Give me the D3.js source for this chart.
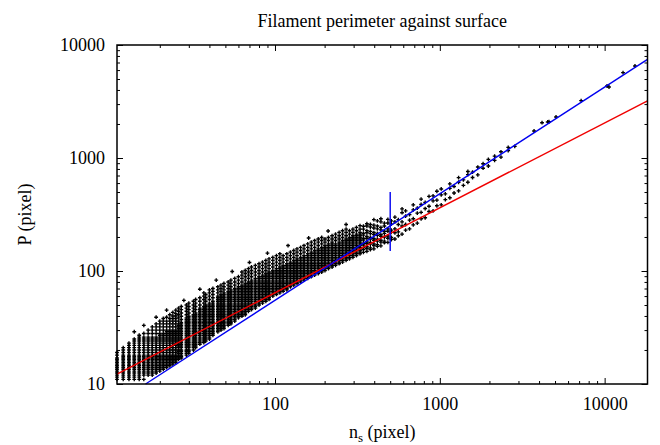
<!DOCTYPE html>
<html>
<head>
<meta charset="utf-8">
<script src="https://cdn.jsdelivr.net/npm/d3@7"></script>
<style>
body { margin: 0; background: #fff; }
text { font-family: "Liberation Serif", "DejaVu Serif", serif; fill: #000; }
</style>
</head>
<body>
<svg id="chart" width="660" height="445"></svg>
<script>
//////////////////////////////////////
// Data

const title = 'Filament perimeter against surface'
const xDomain = [11, 18200]
const yDomain = [10, 10000]
const xMajor = [100, 1000, 10000]
const xMinor = [20, 30, 40, 50, 60, 70, 80, 90, 200, 300, 400, 500, 600, 700, 800, 900, 2000, 3000, 4000, 5000, 6000, 7000, 8000, 9000]
const yMajor = [10, 100, 1000, 10000]
const yMinor = [20, 30, 40, 50, 60, 70, 80, 90, 200, 300, 400, 500, 600, 700, 800, 900, 2000, 3000, 4000, 5000, 6000, 7000, 8000, 9000]

// small surfaces: one column of perimeters per integer n_s
const colNs = [11, 12, 13, 14, 15, 16, 17, 18, 19, 20, 21, 22, 23, 24, 25]
const colP = [
	[11, 11.5, 12, 12.5, 13, 13.5, 14, 14.5, 15, 15.5, 16, 16.5, 17, 18, 19],
	[11, 11.5, 12, 12.5, 13, 13.5, 14, 14.5, 15, 15.5, 16, 16.5, 17, 17.5, 18, 19, 20, 21],
	[11, 11.5, 12, 12.5, 13, 13.5, 14, 14.5, 15, 15.5, 16, 16.5, 17, 17.5, 18, 19, 20, 21, 22, 23],
	[11, 11.5, 12, 12.5, 13, 13.5, 14, 14.5, 15, 15.5, 16, 16.5, 17, 17.5, 18, 19, 20, 21, 22, 23, 24, 25],
	[11, 11.5, 12, 12.5, 13, 13.5, 14, 14.5, 15, 15.5, 16, 16.5, 17, 17.5, 18, 19, 20, 21, 22, 23, 24, 25, 26, 27],
	[11, 12, 12.5, 13, 13.5, 14, 14.5, 15, 15.5, 16, 16.5, 17, 17.5, 18, 19, 20, 21, 22, 23, 24, 25, 26, 28],
	[12, 12.5, 13, 13.5, 14, 14.5, 15, 15.5, 16, 16.5, 17, 17.5, 18, 19, 20, 21, 22, 23, 24, 25, 26, 28, 30],
	[12, 12.5, 13, 13.5, 14, 14.5, 15, 15.5, 16, 16.5, 17, 17.5, 18, 19, 20, 21, 22, 23, 24, 25, 26, 28, 30, 32],
	[12.5, 13, 13.5, 14, 14.5, 15, 15.5, 16, 16.5, 17, 17.5, 18, 19, 20, 21, 22, 23, 24, 25, 26, 28, 30, 32, 34],
	[13, 13.5, 14, 14.5, 15, 15.5, 16, 16.5, 17, 17.5, 18, 19, 20, 21, 22, 23, 24, 25, 26, 27, 28, 30, 32, 34, 36],
	[13.5, 14, 14.5, 15, 15.5, 16, 16.5, 17, 17.5, 18, 19, 20, 21, 22, 23, 24, 25, 26, 27, 28, 30, 32, 34, 36, 38],
	[14, 14.5, 15, 15.5, 16, 16.5, 17, 17.5, 18, 19, 20, 21, 22, 23, 24, 25, 26, 27, 28, 29, 30, 32, 34, 36, 39],
	[14.5, 15, 15.5, 16, 16.5, 17, 17.5, 18, 19, 20, 21, 22, 23, 24, 25, 26, 27, 28, 29, 30, 32, 34, 36, 38, 41],
	[15, 15.5, 16, 16.5, 17, 17.5, 18, 19, 20, 21, 22, 23, 24, 25, 26, 27, 28, 29, 30, 32, 34, 36, 38, 40, 43],
	[15.5, 16, 16.5, 17, 17.5, 18, 19, 20, 21, 22, 23, 24, 25, 26, 27, 28, 29, 30, 32, 34, 36, 38, 40, 42, 45]
]

// larger surfaces, where the columns merge into one dense band
const rowNs = [26, 27, 29, 30, 32, 33, 35, 37, 38, 40, 42, 45, 47, 49, 52, 54, 57, 60, 63, 66, 69, 72, 76, 80, 84, 88, 92, 97,
	102, 107, 112, 118, 124, 130, 136, 143, 150, 158, 166, 174, 183, 192, 201, 211, 222, 233, 245, 257, 270, 283, 297, 312, 328]
const rowP = [
	[16.5, 17, 17.5, 18, 18.7, 19.5, 20, 21, 21.7, 22.5, 23.2, 24, 25, 26, 27, 28, 29, 30, 31, 32, 33, 34, 36, 38.5, 41, 44, 47],
	[17, 17.5, 18, 18.7, 19.5, 20, 21, 21.7, 22.5, 23.2, 24, 25, 26, 27, 28, 29, 30, 31, 32, 33, 34, 35, 37.2, 39.8, 42.5, 45.5, 48.5],
	[18, 18.7, 19.5, 20, 21, 21.7, 22.5, 23.2, 24, 25, 26, 27, 28, 29, 30, 31, 32, 33, 34, 35, 36, 37.2, 38.5, 41, 44, 47, 50],
	[18.7, 19.5, 20, 21, 21.7, 22.5, 23.2, 24, 25, 26, 27, 28, 29, 30, 31, 32, 33, 34, 35, 36, 37.2, 38.5, 39.8, 42.5, 45.5, 48.5, 52],
	[20, 21, 21.7, 22.5, 23.2, 24, 25, 26, 27, 28, 29, 30, 31, 32, 33, 34, 35, 36, 37.2, 38.5, 39.8, 41, 44, 47, 50, 54],
	[21, 21.7, 22.5, 23.2, 24, 25, 26, 27, 28, 29, 30, 31, 32, 33, 34, 35, 36, 37.2, 38.5, 39.8, 41, 42.5, 45.5, 48.5, 52, 56],
	[22.5, 23.2, 24, 25, 26, 27, 28, 29, 30, 31, 32, 33, 34, 35, 36, 37.2, 38.5, 39.8, 41, 42.5, 44, 45.5, 47, 50, 54, 58],
	[23.2, 24, 25, 26, 27, 28, 29, 30, 31, 32, 33, 34, 35, 36, 37.2, 38.5, 39.8, 41, 42.5, 44, 45.5, 47, 48.5, 52, 56, 60, 64],
	[24, 25, 26, 27, 28, 29, 30, 31, 32, 33, 34, 35, 36, 37.2, 38.5, 39.8, 41, 42.5, 44, 45.5, 47, 48.5, 50, 54, 58, 62],
	[25, 26, 27, 28, 29, 30, 31, 32, 33, 34, 35, 36, 37.2, 38.5, 39.8, 41, 42.5, 44, 45.5, 47, 48.5, 50, 52, 56, 60, 64, 68],
	[27, 28, 29, 30, 31, 32, 33, 34, 35, 36, 37.2, 38.5, 39.8, 41, 42.5, 44, 45.5, 47, 48.5, 50, 52, 54, 58, 62, 66, 70],
	[29, 30, 31, 32, 33, 34, 35, 36, 37.2, 38.5, 39.8, 41, 42.5, 44, 45.5, 47, 48.5, 50, 52, 54, 56, 58, 60, 64, 68, 72.5],
	[30, 31, 32, 33, 34, 35, 36, 37.2, 38.5, 39.8, 41, 42.5, 44, 45.5, 47, 48.5, 50, 52, 54, 56, 58, 60, 62, 66, 70, 75],
	[31, 32, 33, 34, 35, 36, 37.2, 38.5, 39.8, 41, 42.5, 44, 45.5, 47, 48.5, 50, 52, 54, 56, 58, 60, 62, 64, 68, 72.5, 77.5],
	[33, 34, 35, 36, 37.2, 38.5, 39.8, 41, 42.5, 44, 45.5, 47, 48.5, 50, 52, 54, 56, 58, 60, 62, 64, 66, 70, 75, 80],
	[34, 35, 36, 37.2, 38.5, 39.8, 41, 42.5, 44, 45.5, 47, 48.5, 50, 52, 54, 56, 58, 60, 62, 64, 66, 68, 72.5, 77.5, 83],
	[36, 37.2, 38.5, 39.8, 41, 42.5, 44, 45.5, 47, 48.5, 50, 52, 54, 56, 58, 60, 62, 64, 66, 68, 70, 75, 80, 86],
	[38.5, 39.8, 41, 42.5, 44, 45.5, 47, 48.5, 50, 52, 54, 56, 58, 60, 62, 64, 66, 68, 70, 72.5, 77.5, 83, 89],
	[39.8, 41, 42.5, 44, 45.5, 47, 48.5, 50, 52, 54, 56, 58, 60, 62, 64, 66, 68, 70, 72.5, 75, 80, 86, 92, 98],
	[41, 42.5, 44, 45.5, 47, 48.5, 50, 52, 54, 56, 58, 60, 62, 64, 66, 68, 70, 72.5, 75, 77.5, 83, 89, 95, 101],
	[44, 45.5, 47, 48.5, 50, 52, 54, 56, 58, 60, 62, 64, 66, 68, 70, 72.5, 75, 77.5, 80, 86, 92, 98, 105],
	[45.5, 47, 48.5, 50, 52, 54, 56, 58, 60, 62, 64, 66, 68, 70, 72.5, 75, 77.5, 80, 83, 89, 95, 101, 108.5],
	[47, 48.5, 50, 52, 54, 56, 58, 60, 62, 64, 66, 68, 70, 72.5, 75, 77.5, 80, 83, 86, 92, 98, 105, 112],
	[50, 52, 54, 56, 58, 60, 62, 64, 66, 68, 70, 72.5, 75, 77.5, 80, 83, 86, 89, 95, 101, 108.5, 116],
	[52, 54, 56, 58, 60, 62, 64, 66, 68, 70, 72.5, 75, 77.5, 80, 83, 86, 89, 92, 98, 105, 112, 120],
	[54, 56, 58, 60, 62, 64, 66, 68, 70, 72.5, 75, 77.5, 80, 83, 86, 89, 92, 95, 101, 108.5, 116, 124],
	[56, 58, 60, 62, 64, 66, 68, 70, 72.5, 75, 77.5, 80, 83, 86, 89, 92, 95, 98, 105, 112, 120, 128],
	[60, 62, 64, 66, 68, 70, 72.5, 75, 77.5, 80, 83, 86, 89, 92, 95, 98, 101, 108.5, 116, 124, 132],
	[62, 64, 66, 68, 70, 72.5, 75, 77.5, 80, 83, 86, 89, 92, 95, 98, 101, 105, 112, 120, 128, 137],
	[64, 66, 68, 70, 72.5, 75, 77.5, 80, 83, 86, 89, 92, 95, 98, 101, 105, 108.5, 116, 124, 132, 142],
	[66, 68, 70, 72.5, 75, 77.5, 80, 83, 86, 89, 92, 95, 98, 101, 105, 108.5, 112, 120, 128, 137],
	[68, 70, 72.5, 75, 77.5, 80, 83, 86, 89, 92, 95, 98, 101, 105, 108.5, 112, 116, 124, 132, 142],
	[72.5, 75, 77.5, 80, 83, 86, 89, 92, 95, 98, 101, 105, 108.5, 112, 116, 120, 128, 137, 147],
	[75, 77.5, 80, 83, 86, 89, 92, 95, 98, 101, 105, 108.5, 112, 116, 120, 124, 132, 142, 152],
	[77.5, 80, 83, 86, 89, 92, 95, 98, 101, 105, 108.5, 112, 116, 120, 124, 128, 137, 147, 157],
	[80, 83, 86, 89, 92, 95, 98, 101, 105, 108.5, 112, 116, 120, 124, 128, 132, 142, 152, 162],
	[83, 86, 89, 92, 95, 98, 101, 105, 108.5, 112, 116, 120, 124, 128, 132, 137, 147, 157, 168],
	[86, 89, 92, 95, 98, 101, 105, 108.5, 112, 116, 120, 124, 128, 132, 137, 142, 152, 162, 174],
	[89, 92, 95, 98, 101, 105, 108.5, 112, 116, 120, 124, 128, 132, 137, 142, 147, 157, 168, 180],
	[92, 95, 98, 101, 105, 108.5, 112, 116, 120, 124, 128, 132, 137, 142, 147, 152, 162, 174, 186],
	[95, 98, 101, 105, 108.5, 112, 116, 120, 124, 128, 132, 137, 142, 147, 152, 157, 168, 180, 192],
	[98, 101, 105, 108.5, 112, 116, 120, 124, 128, 132, 137, 142, 147, 152, 157, 162, 174, 186, 198],
	[101, 105, 108.5, 112, 116, 120, 124, 128, 132, 137, 142, 147, 152, 157, 162, 168, 180, 192],
	[105, 108.5, 112, 116, 120, 124, 128, 132, 137, 142, 147, 152, 157, 162, 168, 174, 186, 198],
	[108.5, 112, 116, 120, 124, 128, 132, 137, 142, 147, 152, 157, 162, 168, 174, 180, 192, 205],
	[112, 116, 120, 124, 128, 132, 137, 142, 147, 152, 157, 162, 168, 174, 186, 198, 212],
	[116, 120, 124, 128, 132, 137, 142, 147, 152, 157, 162, 168, 174, 180, 192, 205, 220],
	[120, 124, 128, 132, 137, 142, 147, 152, 157, 162, 168, 174, 180, 186, 198, 212, 227],
	[124, 128, 132, 137, 142, 147, 152, 157, 162, 168, 174, 180, 186, 192, 205, 220, 235],
	[128, 132, 137, 142, 147, 152, 157, 162, 168, 174, 180, 186, 192, 198, 212, 227],
	[132, 137, 142, 147, 152, 157, 162, 168, 174, 180, 186, 192, 198, 205, 220, 235],
	[137, 142, 147, 152, 157, 162, 168, 174, 180, 186, 192, 198, 205, 212, 227, 243],
	[142, 147, 152, 157, 162, 168, 174, 180, 186, 192, 198, 205, 212, 220, 235, 252]
]

// ragged upper edge of the band
const edgeNs = [14, 16, 19, 22, 28, 35, 44, 55, 70, 90, 120, 160, 210, 270]
const edgeP = [29, 33, 39, 45, 55, 69, 83, 99, 119, 144, 168, 196, 226, 258]

// thinner cloud past the break, around the steeper fit
const sparseNs = [344, 361, 379, 398, 418, 439, 461, 484, 508, 534, 560, 590, 620, 655, 690, 730, 770, 815, 860, 910, 960,
	1020, 1080, 1150, 1220, 1300, 1390, 1480, 1580, 1700, 1830, 1970, 2150, 2350, 2600, 2850]
const sparseP = [
	[146, 155, 161, 170, 176, 188, 195, 208, 216, 235, 249],
	[149, 158, 164, 175, 181, 194, 202, 218, 228, 250, 262],
	[155, 160, 173, 179, 192, 198, 214, 224, 245, 258],
	[157, 168, 174, 187, 194, 210, 219, 240, 255, 285],
	[165, 171, 184, 191, 207, 215, 236, 250, 278],
	[167, 180, 187, 203, 210, 231, 243, 272, 290],
	[178, 184, 200, 215, 225, 250, 265],
	[179, 195, 204, 225, 236, 266, 286],
	[190, 198, 220, 230, 260, 278],
	[192, 218, 236, 272, 300],
	[205, 222, 258, 285],
	[212, 250, 272, 328, 355],
	[230, 258, 306, 340],
	[236, 282, 315],
	[256, 290, 348, 385],
	[265, 325, 360],
	[290, 330, 388, 432],
	[296, 357, 405],
	[336, 374, 458],
	[340, 418, 462],
	[378, 424, 508],
	[385, 472, 532],
	[428, 482],
	[445, 538, 590],
	[490, 560],
	[512, 610, 670],
	[572, 640],
	[610, 712, 760],
	[672, 750],
	[710, 832],
	[812, 890],
	[850, 972],
	[952, 1040],
	[1018, 1135],
	[1165, 1240],
	[1268]
]

// the few biggest filaments
const tailNs = [3730, 4170, 4515, 4595, 5070, 7200, 10340, 10630, 12930, 15280]
const tailP = [1733, 2052, 2084, 2094, 2307, 3215, 4335, 4250, 5690, 6520]

// fitted power laws, drawn as straight segments between their ends
const redFitNs = [11, 18200]
const redFitP = [12.2, 3210]
const blueFitNs = [16.4, 18200]
const blueFitP = [10, 7460]
// vertical marker at the break surface
const breakNs = [500, 500]
const breakP = [150, 500]

//////////////////////////////////////
// Layout

const Chartleft = 117, Chartright = 647.5, Charttop = 45, Chartbottom = 384
const fontSize = 18

const svg = d3.select('#chart')

const x = d3.scaleLog().domain(xDomain).range([Chartleft, Chartright])
const y = d3.scaleLog().domain(yDomain).range([Chartbottom, Charttop])

//////////////////////////////////////
// Points

var points = []
function addColumns(nsArr, pArr) {
	nsArr.forEach(function(ns, i) {
		pArr[i].forEach(function(p) { points.push([ns, p]) })
	})
}
addColumns(colNs, colP)
addColumns(rowNs, rowP)
addColumns(sparseNs, sparseP)
edgeNs.forEach(function(ns, i) { points.push([ns, edgeP[i]]) })
tailNs.forEach(function(ns, i) { points.push([ns, tailP[i]]) })

svg.append('g')
	.selectAll('path')
	.data(points)
	.enter().append('path')
	.attr('d', 'M-1.9,0H1.9M0,-1.9V1.9')
	.attr('transform', function(d) { return 'translate(' + x(d[0]) + ',' + y(d[1]) + ')' })
	.attr('stroke', '#000')
	.attr('stroke-width', 1.35)
	.attr('fill', 'none')

//////////////////////////////////////
// Fit lines

const line = d3.line()
	.x(function(d) { return x(d[0]) })
	.y(function(d) { return y(d[1]) })

function drawLine(nsArr, pArr, colour) {
	svg.append('path')
		.datum(nsArr.map(function(ns, i) { return [ns, pArr[i]] }))
		.attr('d', line)
		.attr('fill', 'none')
		.attr('stroke', colour)
		.attr('stroke-width', 1.4)
}
drawLine(redFitNs, redFitP, '#f00000')
drawLine(blueFitNs, blueFitP, '#0000f0')
drawLine(breakNs, breakP, '#0000f0')

//////////////////////////////////////
// Axes (gnuplot style: ticks inward on all four sides)

function styleAxis(g) {
	g.select('.domain').remove()
	g.attr('font-size', fontSize).attr('font-family', null)
	g.selectAll('line').attr('stroke', '#000')
}

svg.append('g').attr('transform', 'translate(0,' + Chartbottom + ')')
	.call(d3.axisBottom(x).tickValues(xMajor).tickSize(-6).tickPadding(13).tickFormat(d3.format('d')))
	.call(styleAxis)
svg.append('g').attr('transform', 'translate(0,' + Chartbottom + ')')
	.call(d3.axisBottom(x).tickValues(xMinor).tickSize(-3).tickFormat(''))
	.call(styleAxis)
svg.append('g').attr('transform', 'translate(0,' + Charttop + ')')
	.call(d3.axisTop(x).tickValues(xMajor).tickSize(-6).tickFormat(''))
	.call(styleAxis)
svg.append('g').attr('transform', 'translate(0,' + Charttop + ')')
	.call(d3.axisTop(x).tickValues(xMinor).tickSize(-3).tickFormat(''))
	.call(styleAxis)

svg.append('g').attr('transform', 'translate(' + Chartleft + ',0)')
	.call(d3.axisLeft(y).tickValues(yMajor).tickSize(-6).tickPadding(12).tickFormat(d3.format('d')))
	.call(styleAxis)
svg.append('g').attr('transform', 'translate(' + Chartleft + ',0)')
	.call(d3.axisLeft(y).tickValues(yMinor).tickSize(-3).tickFormat(''))
	.call(styleAxis)
svg.append('g').attr('transform', 'translate(' + Chartright + ',0)')
	.call(d3.axisRight(y).tickValues(yMajor).tickSize(-6).tickFormat(''))
	.call(styleAxis)
svg.append('g').attr('transform', 'translate(' + Chartright + ',0)')
	.call(d3.axisRight(y).tickValues(yMinor).tickSize(-3).tickFormat(''))
	.call(styleAxis)

// frame
svg.append('rect')
	.attr('x', Chartleft).attr('y', Charttop)
	.attr('width', Chartright - Chartleft).attr('height', Chartbottom - Charttop)
	.attr('fill', 'none').attr('stroke', '#000').attr('stroke-width', 1.5)

//////////////////////////////////////
// Titles

const midX = (Chartleft + Chartright) / 2

svg.append('text')
	.attr('x', midX).attr('y', 27)
	.attr('text-anchor', 'middle')
	.attr('font-size', fontSize)
	.text(title)

const xlab = svg.append('text')
	.attr('x', midX).attr('y', 438)
	.attr('text-anchor', 'middle')
	.attr('font-size', fontSize)
xlab.append('tspan').text('n')
xlab.append('tspan').attr('font-size', 13).attr('dy', 4).text('s')
xlab.append('tspan').attr('dy', -4).text(' (pixel)')

svg.append('text')
	.attr('transform', 'translate(31,' + ((Charttop + Chartbottom) / 2) + ') rotate(-90)')
	.attr('text-anchor', 'middle')
	.attr('font-size', fontSize)
	.text('P (pixel)')
</script>
</body>
</html>
